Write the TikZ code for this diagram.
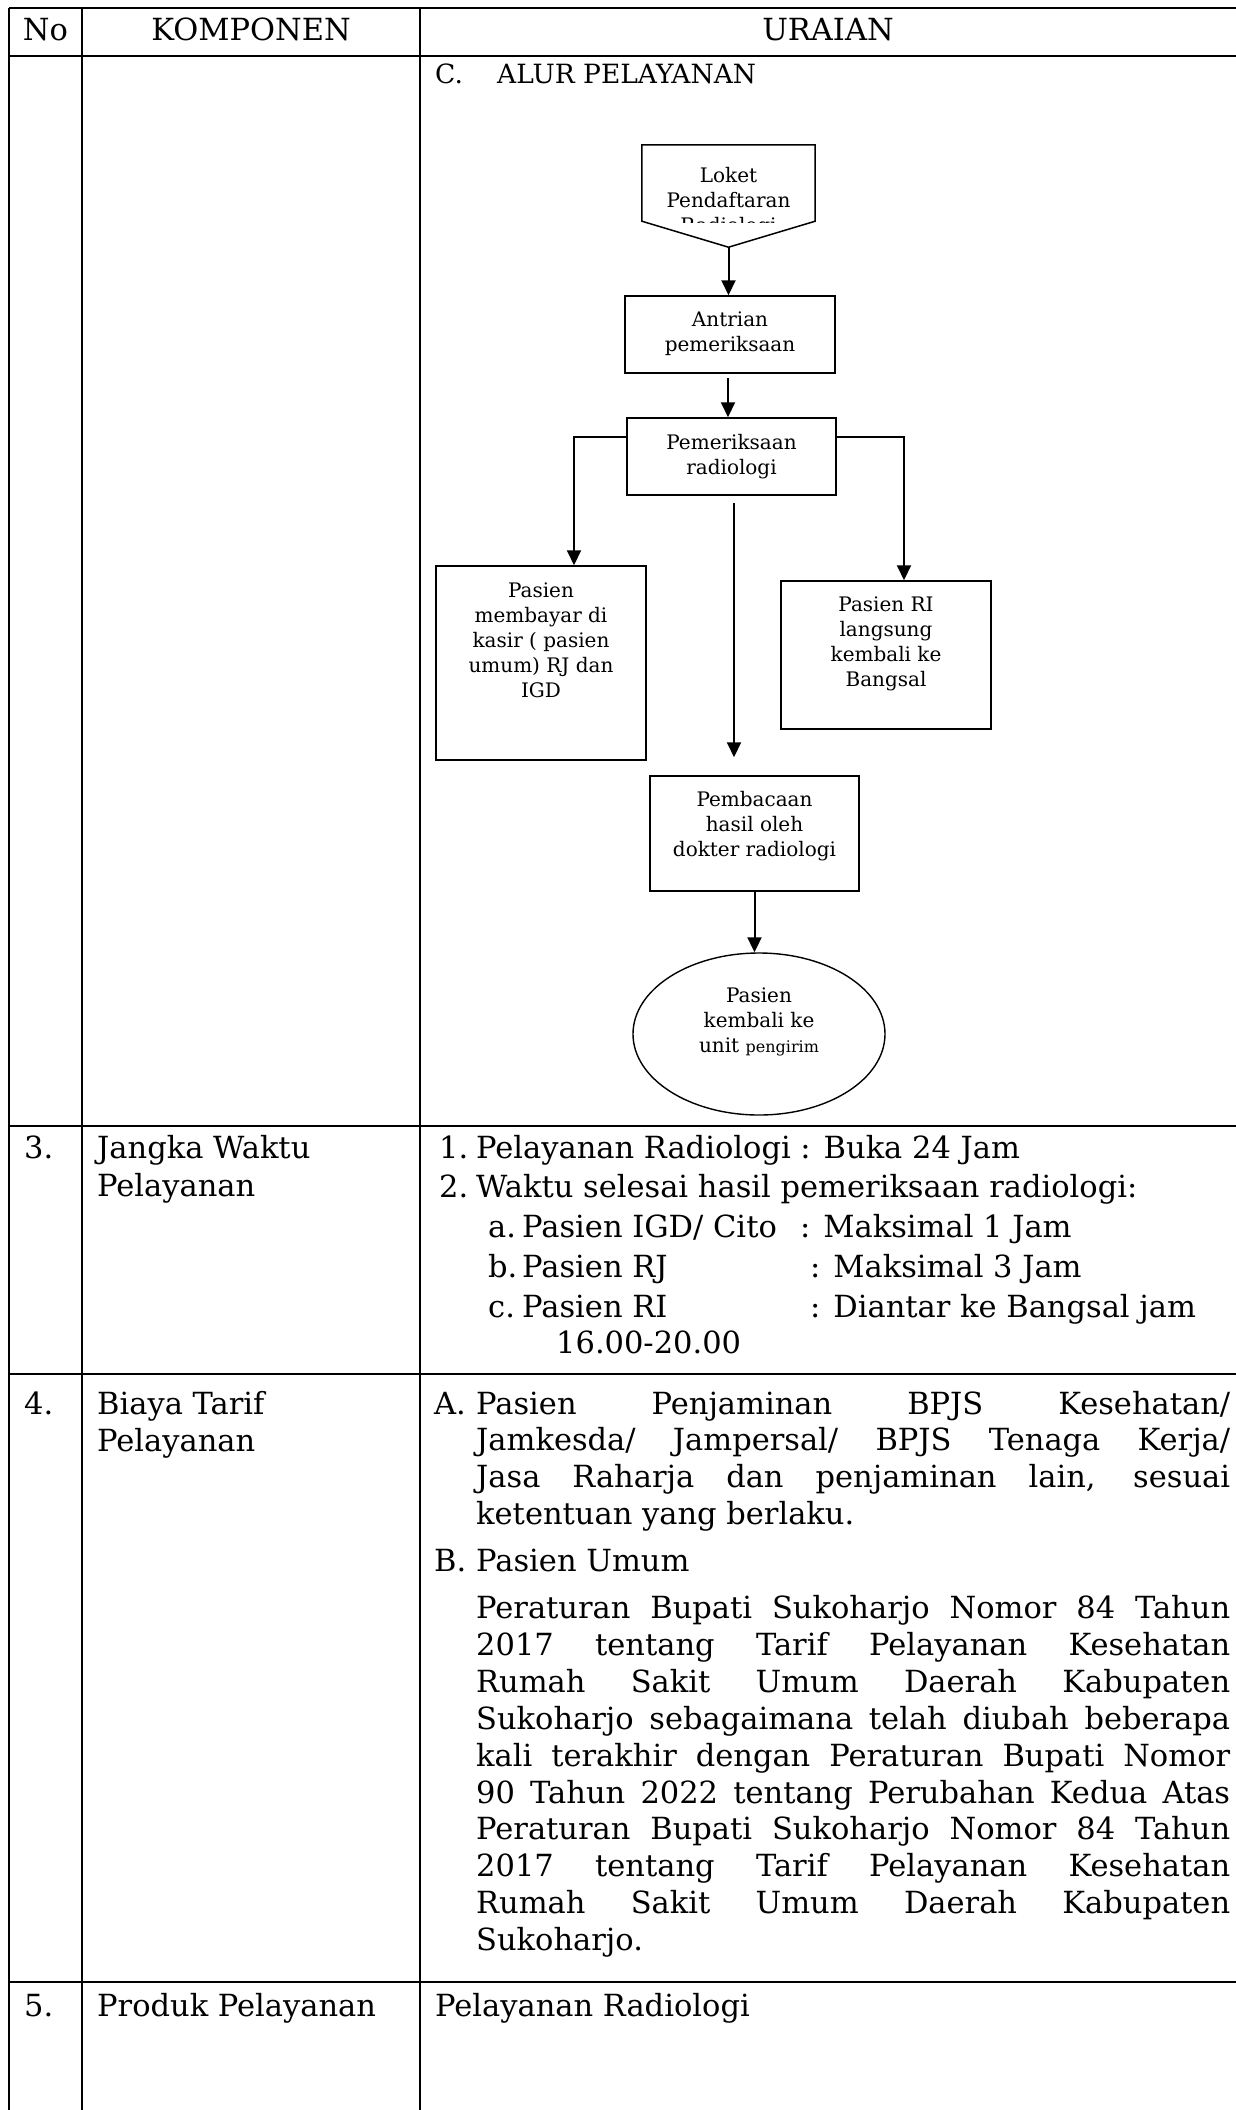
\documentclass[tikz,border=0pt]{standalone}
\usepackage{fontspec}
\setmainfont{DejaVu Serif}
\usetikzlibrary{arrows.meta,calc,shapes.geometric}
\newcommand\bodyfont{\fontsize{30.5}{37}\selectfont}
\newcommand\titlefont{\fontsize{26.5}{30}\selectfont}
\newcommand\flowfont{\fontsize{20}{25}\selectfont}
\newcommand\smallflow{\fontsize{16}{25}\selectfont}
\newcommand\stacklines[1]{\begin{tabular}[t]{@{}c@{}}#1\end{tabular}}
\newcommand\justline[1]{\makebox[754pt][s]{#1}}
\begin{document}
\begin{tikzpicture}[x=1pt,y=-1pt,
  rule/.style={line width=2.2pt},
  txt/.style={inner sep=0pt,anchor=base west,font=\bodyfont},
  ctxt/.style={inner sep=0pt,anchor=base,font=\bodyfont},
  fbox/.style={draw,line width=1.5pt,inner sep=0pt},
  ftxt/.style={inner sep=0pt,anchor=base,font=\flowfont},
  arr/.style={line width=2pt,-{Triangle[length=15pt,width=14pt]}}]
\useasboundingbox (0,0) rectangle (1236,2110);

% ---------- table rules ----------
\foreach \yy in {8,56,1126,1374,1982}
  \draw[rule] (9,\yy) -- (1236,\yy);
\foreach \xx in {9,82,420}
  \draw[rule] (\xx,8) -- (\xx,2110);

% ---------- header ----------
\node[ctxt] (hNo)   at (45.5,40) {No};
\node[ctxt] (hKomp) at (251,40)  {KOMPONEN};
\node[ctxt] (hUrai) at (828,40)  {URAIAN};

% ---------- row: flow of service ----------
\node[txt,font=\titlefont] (cLbl)   at (435,83) {C.};
\node[txt,font=\titlefont] (cTitle) at (497,83) {ALUR PELAYANAN};

% registration counter (off-page connector shape)
\node[inner sep=0pt,minimum width=173pt,minimum height=102pt] (loket) at (728.5,196) {};
\draw[line width=1.5pt] (loket.north west) -- (loket.north east)
  -- ($(loket.south east)+(0,-26)$) -- (loket.south)
  -- ($(loket.south west)+(0,-26)$) -- cycle;
\begin{scope}
  \clip (loket.north west) rectangle ($(loket.east)+(87,26)$);
  \node[ftxt] (tLoket) at ($(loket.north)+(0,38)$) {\stacklines{Loket\\Pendaftaran\\Radiologi}};
\end{scope}

\node[fbox,minimum width=210pt,minimum height=77pt]  (antrian)   at (730,334.5) {};
\node[fbox,minimum width=209pt,minimum height=77pt]  (pem)       at (731.5,456.5) {};
\node[fbox,minimum width=210pt,minimum height=194pt] (left)      at (541,663) {};
\node[fbox,minimum width=210pt,minimum height=148pt] (right)     at (886,655) {};
\node[fbox,minimum width=209pt,minimum height=115pt] (pembacaan) at (754.5,833.5) {};
\node[draw,ellipse,line width=1.4pt,inner sep=0pt,minimum width=252pt,minimum height=162pt] (ell) at (759,1034) {};

\node[ftxt] (tAntrian) at ($(antrian.north)+(0,31)$) {\stacklines{Antrian\\pemeriksaan}};
\node[ftxt] (tPem)     at ($(pem.north)+(0,32)$) {\stacklines{Pemeriksaan\\radiologi}};
\node[ftxt] (tLeft)    at ($(left.north)+(0,32)$) {\stacklines{Pasien\\membayar di\\kasir ( pasien\\umum) RJ dan\\IGD}};
\node[ftxt] (tRight)   at ($(right.north)+(0,31)$) {\stacklines{Pasien RI\\langsung\\kembali ke\\Bangsal}};
\node[ftxt] (tPemb)    at ($(pembacaan.north)+(0,31)$) {\stacklines{Pembacaan\\hasil oleh\\dokter radiologi}};
\node[ftxt] (tEll)     at ($(ell.north)+(0,50)$) {\stacklines{Pasien\\kembali ke\\unit {\smallflow pengirim}}};

\draw[arr] (loket.south) -- (loket.south |- antrian.north);
\draw[arr] ($(antrian.south)+(-2,4)$) coordinate (a2) -- (a2 |- pem.north);
\draw[arr] ($(pem.north west)+(0,20)$) -| ($(left.north)+(33,0)$);
\draw[arr] ($(pem.north east)+(0,20)$) -| ($(right.north)+(18,0)$);
\draw[arr] ($(pem.south)+(2.5,7)$) coordinate (c1) -- ($(c1 |- pembacaan.north)+(0,-18)$);
\draw[arr] (pembacaan.south) -- (pembacaan.south |- ell.north);

% ---------- row 3 ----------
\node[txt] (n3)  at (24,1158) {3.};
\node[txt] (k3a) at (97,1158) {Jangka Waktu};
\node[txt] (k3b) at (97,1196) {Pelayanan};
\node[txt] (u3n1) at (439,1158) {1.};
\node[txt] (u3t1) at (476,1158) {Pelayanan Radiologi : Buka 24 Jam};
\node[txt] (u3n2) at (439,1197) {2.};
\node[txt] (u3t2) at (476,1197) {Waktu selesai hasil pemeriksaan radiologi:};
\node[txt] (u3na) at (488,1237) {a.};
\node[txt] (u3ta) at (522,1237) {Pasien IGD/ Cito};
\node[txt] (u3ca) at (800,1237) {: Maksimal 1 Jam};
\node[txt] (u3nb) at (488,1277) {b.};
\node[txt] (u3tb) at (522,1277) {Pasien RJ};
\node[txt] (u3cb) at (810,1277) {: Maksimal 3 Jam};
\node[txt] (u3nc) at (488,1317) {c.};
\node[txt] (u3tc) at (522,1317) {Pasien RI};
\node[txt] (u3cc) at (810,1317) {: Diantar ke Bangsal jam};
\node[txt] (u3td) at (556,1353) {16.00-20.00};

% ---------- row 4 ----------
\node[txt] (n4)  at (24,1414) {4.};
\node[txt] (k4a) at (97,1414) {Biaya Tarif};
\node[txt] (k4b) at (97,1451) {Pelayanan};
\node[txt] (u4A)  at (434,1414) {A.};
\node[txt] (u4a1) at (476,1414)    {\justline{Pasien Penjaminan BPJS Kesehatan/}};
\node[txt] (u4a2) at (476,1450.85) {\justline{Jamkesda/ Jampersal/ BPJS Tenaga Kerja/}};
\node[txt] (u4a3) at (476,1487.7)  {\justline{Jasa Raharja dan penjaminan lain, sesuai}};
\node[txt] (u4a4) at (476,1524.55) {ketentuan yang berlaku.};
\node[txt] (u4B)  at (434,1571.7) {B.};
\node[txt] (u4b0) at (476,1571.7) {Pasien Umum};
\node[txt] (u4p1) at (476,1618.85) {\justline{Peraturan Bupati Sukoharjo Nomor 84 Tahun}};
\node[txt] (u4p2) at (476,1655.7)  {\justline{2017 tentang Tarif Pelayanan Kesehatan}};
\node[txt] (u4p3) at (476,1692.55) {\justline{Rumah Sakit Umum Daerah Kabupaten}};
\node[txt] (u4p4) at (476,1729.4)  {\justline{Sukoharjo sebagaimana telah diubah beberapa}};
\node[txt] (u4p5) at (476,1766.25) {\justline{kali terakhir dengan Peraturan Bupati Nomor}};
\node[txt] (u4p6) at (476,1803.1)  {\justline{90 Tahun 2022 tentang Perubahan Kedua Atas}};
\node[txt] (u4p7) at (476,1839.95) {\justline{Peraturan Bupati Sukoharjo Nomor 84 Tahun}};
\node[txt] (u4p8) at (476,1876.8)  {\justline{2017 tentang Tarif Pelayanan Kesehatan}};
\node[txt] (u4p9) at (476,1913.65) {\justline{Rumah Sakit Umum Daerah Kabupaten}};
\node[txt] (u4p10) at (476,1950.5) {Sukoharjo.};

% ---------- row 5 ----------
\node[txt] (n5)  at (24,2016) {5.};
\node[txt] (k5a) at (97,2016) {Produk Pelayanan};
\node[txt] (u5a) at (435,2016) {Pelayanan Radiologi};
\end{tikzpicture}
\end{document}
